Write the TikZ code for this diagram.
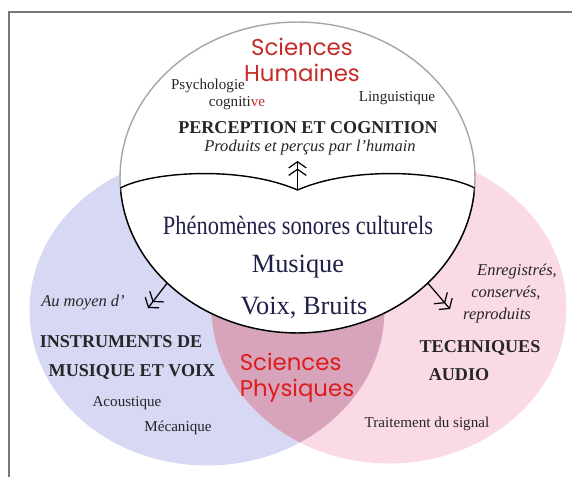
\documentclass[tikz,border=0pt]{standalone}
\usepackage{fontspec}
\setmainfont{Liberation Serif}
\newfontfamily\sciencefont{Poppins}
\usetikzlibrary{shapes.geometric,arrows.meta}
\definecolor{lavender}{RGB}{214,216,244}
\definecolor{blush}{RGB}{250,218,228}
\definecolor{mauve}{RGB}{216,164,188}
\definecolor{humred}{RGB}{196,44,40}
\definecolor{physred}{RGB}{222,28,28}
\definecolor{inknavy}{RGB}{32,32,74}
\definecolor{framegray}{RGB}{120,120,120}
\begin{document}
\begin{tikzpicture}
    [x=0.02cm, y=-0.02cm,
     venn/.style={ellipse, minimum width=7.1cm, minimum height=6.22cm,
       inner sep=0pt, outer sep=0pt},
     boldlabel/.style={text=black!85, font=\fontsize{10.3}{12}\selectfont\bfseries},
     smalllabel/.style={text=black!85, font=\fontsize{8.6}{10}\selectfont},
     itallabel/.style={text=black!85, font=\fontsize{9.4}{11}\selectfont\itshape},
     sciencelabel/.style={font=\sciencefont\fontsize{13}{14.8}\selectfont},
     centrallabel/.style={text=inknavy, font=\fontsize{15}{18}\selectfont},
     dblarrow/.style={line width=0.7pt,
       -{Straight Barb[length=3.5pt,width=10pt]Straight Barb[length=3.5pt,width=10pt]}}]
    \useasboundingbox (0,0) rectangle (572,477);
    \draw[framegray, line width=0.8pt] (9,477) -- (9,12) -- (572,12);
    % the three fields
    \node[venn, fill=lavender] (instr) at (207,310) {};
    \node[venn, fill=blush] (audio) at (389,308) {};
    \begin{scope}
    \clip (207,310) ellipse [x radius=3.55cm, y radius=3.11cm];
    \fill[mauve] (389,308) ellipse [x radius=3.55cm, y radius=3.11cm];
    \end{scope}
    \node[venn, fill=white, draw=gray!70, line width=0.8pt] (percep) at (297.5,177.5) {};
    \coordinate (cusp) at (297.5,190);
    \coordinate (lend) at (120.4,188);
    \coordinate (rend) at (474.6,188);
    \begin{scope}
    \clip (lend) .. controls (150,172) and (240,165) .. (cusp)
      .. controls (355,165) and (445,172) .. (rend) -- (480,345) -- (115,345) -- cycle;
    \draw[line width=0.8pt] (percep.center) ellipse [x radius=3.55cm, y radius=3.11cm];
    \end{scope}
    \draw[line width=0.8pt] (lend) .. controls (150,172) and (240,165) .. (cusp)
      .. controls (355,165) and (445,172) .. (rend);
    % arrows
    \coordinate (up) at (297.5,161);
    \coordinate (downleft) at (148,308);
    \coordinate (downright) at (450,309);
    \draw[dblarrow] (cusp) -- (up);
    \draw[dblarrow] (percep.219) -- (downleft);
    \draw[dblarrow] (percep.321) -- (downright);
    % labels
    \node[sciencelabel, text=humred, align=center] (humaines) at (302,60) {Sciences\\Humaines};
    \node[smalllabel] (psycho) at (208,86) {Psychologie};
    \node[smalllabel] (cogn) at (237,103) {cogniti\textcolor{humred}{ve}};
    \node[smalllabel] (ling) at (397,98) {Linguistique};
    \node[boldlabel] (percepcog) at (308,128) {PERCEPTION ET COGNITION};
    \node[itallabel] (produits) at (310,148) {Produits et perçus par l'humain};
    \node[centrallabel] (phenom) at (298,225) {\scalebox{0.85}[1]{Phénomènes sonores culturels}};
    \node[centrallabel] (musique) at (298,267) {Musique};
    \node[centrallabel] (voix) at (304,308) {Voix, Bruits};
    \node[itallabel] (moyen) at (83,303) {Au moyen d'};
    \node[boldlabel] (instrde) at (121,342) {INSTRUMENTS DE};
    \node[boldlabel] (musvoix) at (132,372) {MUSIQUE ET VOIX};
    \node[smalllabel] (acoust) at (127,403) {Acoustique};
    \node[smalllabel] (meca) at (178,428) {Mécanique};
    \node[sciencelabel, text=physred, align=left] (physiques) at (297,378) {Sciences\\Physiques};
    \node[itallabel] (enreg) at (517,272) {Enregistrés,};
    \node[itallabel] (conserv) at (506,293) {conservés,};
    \node[itallabel] (reprod) at (497,316) {reproduits};
    \node[boldlabel] (techn) at (480,348) {TECHNIQUES};
    \node[boldlabel] (audiolbl) at (459,375) {AUDIO};
    \node[smalllabel] (signal) at (427,424) {Traitement du signal};
\end{tikzpicture}
\end{document}
